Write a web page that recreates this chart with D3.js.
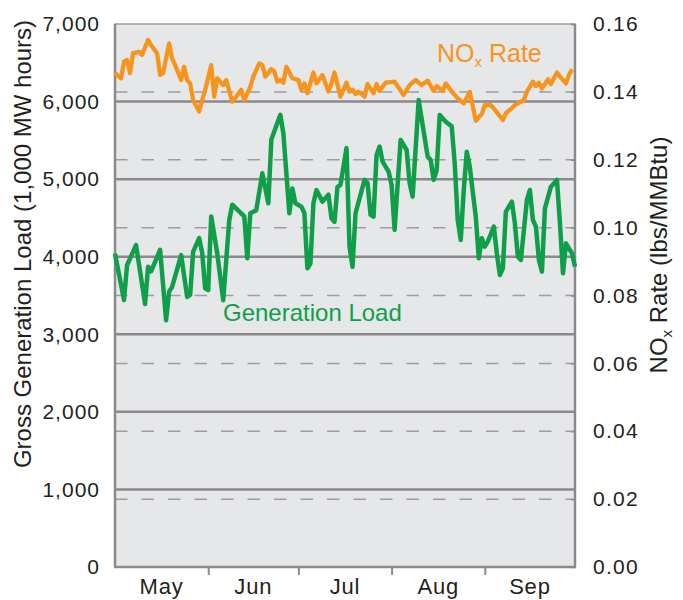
<!DOCTYPE html>
<html>
<head>
<meta charset="utf-8">
<script src="https://cdn.jsdelivr.net/npm/d3@7/dist/d3.min.js"></script>
<style>
  body { margin: 0; background: #fff; }
  text { font-family: "Liberation Sans", Arial, sans-serif; fill: #231f20; }
</style>
</head>
<body>
<div id="chart"></div>
<script>
const width = 683, height = 600;
const margin = {top: 24, right: 108, bottom: 33, left: 115};

// generation load, 1,000 MW hours
const loadDates = ['05-01','05-04','05-05','05-08','05-11','05-12','05-13','05-16','05-18','05-19','05-20','05-23','05-25','05-26','05-27','05-29','05-30','05-31',
  '06-01','06-02','06-04','06-06','06-08','06-09','06-13','06-14','06-15','06-17','06-19','06-21','06-22','06-25','06-26','06-28','06-29','06-30',
  '07-02','07-03','07-04','07-05','07-06','07-07','07-09','07-11','07-12','07-13','07-14','07-15','07-17','07-18','07-19','07-20','07-23','07-24','07-25','07-26','07-27','07-28','07-29','07-31',
  '08-01','08-02','08-04','08-06','08-07','08-08','08-10','08-13','08-14','08-15','08-16','08-17','08-19','08-21','08-22','08-23','08-24','08-25','08-26','08-27','08-29','08-30','08-31',
  '09-01','09-02','09-04','09-05','09-06','09-07','09-08','09-10','09-11','09-12','09-13','09-15','09-16','09-17','09-18','09-19','09-20','09-21','09-23','09-25','09-26','09-27','09-28','09-30','10-01'];
const loadValues = [4040,3440,3890,4150,3390,3870,3810,4090,3180,3550,3610,4020,3480,3510,4065,4240,4050,3590,
  3570,4520,4045,3440,4470,4670,4520,3980,4560,4600,5075,4690,5510,5830,5590,4560,4880,4690,
  4645,4560,3850,3915,4690,4860,4710,4800,4495,4450,4900,4925,5400,4130,3870,4560,4990,4946,4540,4516,5311,5420,5225,5096,
  4925,4345,5505,5376,4946,4774,6020,5290,5247,4990,5118,5827,5740,5680,5200,4470,4216,4860,5354,5160,4516,3979,4237,
  4129,4194,4387,4044,3764,3851,4580,4710,4431,4000,3958,4731,4860,4473,4387,3958,3807,4624,4903,4989,4431,3786,4172,4044,3871];

// NOx rate, lbs/MMBtu
const noxDates = ['05-01','05-03','05-04','05-05','05-06','05-07','05-09','05-10','05-12','05-13','05-15','05-16','05-17','05-19','05-20','05-21','05-23','05-24','05-25','05-26','05-27','05-29','05-30','05-31',
  '06-02','06-03','06-04','06-06','06-07','06-09','06-12','06-13','06-15','06-16','06-18','06-19','06-20','06-22','06-23','06-24','06-25','06-26','06-27','06-29',
  '07-01','07-02','07-03','07-04','07-06','07-07','07-09','07-11','07-12','07-13','07-15','07-17','07-18','07-19','07-20','07-21','07-23','07-24','07-26','07-27','07-28','07-30',
  '08-02','08-05','08-07','08-09','08-11','08-13','08-15','08-16','08-18','08-19','08-21','08-23','08-25','08-27','08-29','08-31',
  '09-01','09-03','09-05','09-07','09-08','09-10','09-11','09-13','09-14','09-15','09-17','09-18','09-19','09-20','09-22','09-23','09-25','09-26','09-28','09-29','09-30'];
const noxValues = [0.1455,0.1440,0.1489,0.1494,0.1455,0.1514,0.1518,0.1509,0.1553,0.1538,0.1514,0.1450,0.1455,0.1543,0.1499,0.1479,0.1435,0.1474,0.1435,0.1425,0.1376,0.1342,0.1376,0.1406,
  0.1479,0.1386,0.1440,0.1420,0.1435,0.1371,0.1406,0.1376,0.1415,0.1445,0.1484,0.1479,0.1445,0.1467,0.1460,0.1430,0.1435,0.1427,0.1474,0.1440,
  0.1435,0.1406,0.1425,0.1396,0.1457,0.1425,0.1450,0.1401,0.1425,0.1457,0.1386,0.1427,0.1401,0.1406,0.1394,0.1401,0.1386,0.1423,0.1396,0.1423,0.1403,0.1427,
  0.1430,0.1391,0.1420,0.1435,0.1420,0.1433,0.1403,0.1417,0.1403,0.1425,0.1401,0.1381,0.1366,0.1400,0.1315,0.1335,
  0.1361,0.1361,0.1340,0.1317,0.1337,0.1352,0.1361,0.1371,0.1376,0.1401,0.1430,0.1417,0.1427,0.1410,0.1437,0.1423,0.1457,0.1445,0.1425,0.1450,0.1467];

const months = ['May','Jun','Jul','Aug','Sep'];
const monthStarts = ['05-01','06-01','07-01','08-01','09-01','10-01'];
const loadTicks = [0,1000,2000,3000,4000,5000,6000,7000];
const noxTicks = [0,0.02,0.04,0.06,0.08,0.10,0.12,0.14,0.16];

const parse = d3.utcParse('%Y-%m-%d');
const toDate = s => parse('2013-' + s);

const loadData = loadDates.map((d, i) => ({date: toDate(d), value: loadValues[i]}));
const noxData = noxDates.map((d, i) => ({date: toDate(d), value: noxValues[i]}));
const starts = monthStarts.map(toDate);

const svg = d3.select('#chart').append('svg')
  .attr('width', width)
  .attr('height', height);

const x = d3.scaleUtc()
  .domain([starts[0], starts[5]])
  .range([margin.left, width - margin.right]);
const yL = d3.scaleLinear().domain([0, 7000]).range([height - margin.bottom, margin.top]);
const yR = d3.scaleLinear().domain([0, 0.16]).range([height - margin.bottom, margin.top]);

const x0 = margin.left, x1 = width - margin.right;

// plot background
svg.append('rect')
  .attr('x', x0).attr('y', margin.top)
  .attr('width', x1 - x0).attr('height', height - margin.bottom - margin.top)
  .attr('fill', '#e6e7e8')
  .attr('stroke', '#9a9a9c')
  .attr('stroke-width', 1.5);

// dashed grid from right axis
svg.append('g')
  .selectAll('line')
  .data(noxTicks.filter(d => d > 0 && d < 0.16))
  .enter()
  .append('line')
  .attr('x1', x0).attr('x2', x1)
  .attr('y1', d => yR(d)).attr('y2', d => yR(d))
  .attr('stroke', '#9d9d9f')
  .attr('stroke-width', 1.5)
  .attr('stroke-dasharray', '12.5,14');

// solid grid from left axis
svg.append('g')
  .selectAll('line')
  .data(loadTicks.filter(d => d > 0 && d < 7000))
  .enter()
  .append('line')
  .attr('x1', x0).attr('x2', x1)
  .attr('y1', d => yL(d)).attr('y2', d => yL(d))
  .attr('stroke', '#8a8a8c')
  .attr('stroke-width', 2.5);

// frame edges
svg.append('line').attr('x1', x0).attr('x2', x0).attr('y1', margin.top).attr('y2', yL(0))
  .attr('stroke', '#8a8a8c').attr('stroke-width', 2.5);
svg.append('line').attr('x1', x1).attr('x2', x1).attr('y1', margin.top).attr('y2', yL(0))
  .attr('stroke', '#8a8a8c').attr('stroke-width', 2.5);
svg.append('line').attr('x1', x0 - 1).attr('x2', x1 + 1).attr('y1', yL(0)).attr('y2', yL(0))
  .attr('stroke', '#8a8a8c').attr('stroke-width', 2.5);

// lines
const loadLine = d3.line().x(d => x(d.date)).y(d => yL(d.value));
const noxLine = d3.line().x(d => x(d.date)).y(d => yR(d.value));

svg.append('path')
  .datum(noxData)
  .attr('d', noxLine)
  .attr('fill', 'none')
  .attr('stroke', '#f7941e')
  .attr('stroke-width', 4.3)
  .attr('stroke-linejoin', 'round');

svg.append('path')
  .datum(loadData)
  .attr('d', loadLine)
  .attr('fill', 'none')
  .attr('stroke', '#0f9f48')
  .attr('stroke-width', 4.5)
  .attr('stroke-linejoin', 'round');

// left axis
const leftAxis = svg.append('g')
  .attr('transform', 'translate(' + x0 + ',0)')
  .call(d3.axisLeft(yL).tickValues(loadTicks).tickFormat(d3.format(',')).tickSize(0).tickPadding(15));
leftAxis.select('.domain').remove();
leftAxis.selectAll('text')
  .attr('font-size', 21).attr('letter-spacing', 1).attr('fill', '#231f20')
  .style('font-family', '"Liberation Sans", Arial, sans-serif');

// right axis
const rightAxis = svg.append('g')
  .attr('transform', 'translate(' + x1 + ',0)')
  .call(d3.axisRight(yR).tickValues(noxTicks).tickFormat(d3.format('.2f')).tickSizeInner(-4).tickSizeOuter(0).tickPadding(18));
rightAxis.select('.domain').remove();
rightAxis.selectAll('line').attr('stroke', '#8a8a8c').attr('stroke-width', 1.5);
rightAxis.selectAll('text')
  .attr('font-size', 21).attr('letter-spacing', 1.3).attr('fill', '#231f20')
  .style('font-family', '"Liberation Sans", Arial, sans-serif');

// bottom axis: ticks at month boundaries
const bottomAxis = svg.append('g')
  .attr('transform', 'translate(0,' + yL(0) + ')')
  .call(d3.axisBottom(x).tickValues(starts.slice(1, 5)).tickSize(8).tickFormat(''));
bottomAxis.select('.domain').remove();
bottomAxis.selectAll('line').attr('stroke', '#8a8a8c').attr('stroke-width', 2);

// month labels centred in each month
svg.append('g')
  .selectAll('text')
  .data(months)
  .enter()
  .append('text')
  .attr('x', (d, i) => (x(starts[i]) + x(starts[i + 1])) / 2)
  .attr('y', 594)
  .attr('text-anchor', 'middle')
  .attr('font-size', 22)
  .attr('letter-spacing', 0.8)
  .text(d => d);

// axis titles
svg.append('text')
  .attr('transform', 'translate(31,' + 244 + ') rotate(-90)')
  .attr('text-anchor', 'middle')
  .attr('font-size', 24)
  .text('Gross Generation Load (1,000 MW hours)');

const rt = svg.append('text')
  .attr('transform', 'translate(667,' + 255 + ') rotate(-90)')
  .attr('text-anchor', 'middle')
  .attr('font-size', 24);
rt.append('tspan').text('NO');
rt.append('tspan').attr('font-size', 15).attr('dy', 5).text('x');
rt.append('tspan').attr('dy', -5).text(' Rate (lbs/MMBtu)');

// series labels
const noxLabel = svg.append('text')
  .attr('x', 437).attr('y', 62)
  .attr('font-size', 25)
  .style('fill', '#f7941e');
noxLabel.append('tspan').text('NO');
noxLabel.append('tspan').attr('font-size', 15).attr('dy', 5).text('x');
noxLabel.append('tspan').attr('dy', -5).text(' Rate');

svg.append('text')
  .attr('x', 223).attr('y', 321)
  .attr('font-size', 24)
  .style('fill', '#0f9f48')
  .text('Generation Load');
</script>
</body>
</html>
